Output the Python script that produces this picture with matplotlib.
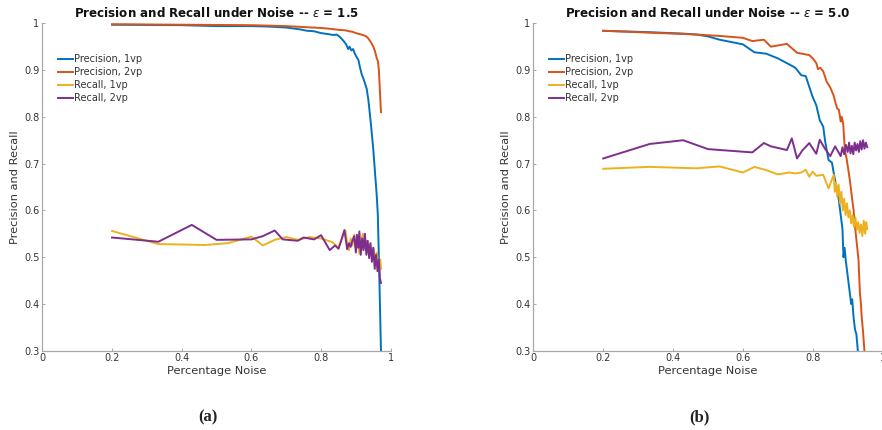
import matplotlib
matplotlib.use("Agg")
import matplotlib.pyplot as plt
from matplotlib.ticker import FuncFormatter

# ---------------- epsilon = 1.5 ----------------
eps_a = "1.5"
a_prec1_x = [0.2, 0.4, 0.5, 0.6, 0.65, 0.7, 0.74, 0.76, 0.78, 0.8, 0.82, 0.835, 0.845,
             0.855, 0.865, 0.872, 0.878, 0.882, 0.887, 0.892, 0.897, 0.902, 0.907, 0.912,
             0.917, 0.921, 0.926, 0.931, 0.936, 0.941, 0.945, 0.95, 0.955, 0.96, 0.963,
             0.966, 0.969, 0.972]
a_prec1_y = [0.997, 0.996, 0.994, 0.994, 0.993, 0.991, 0.987, 0.984, 0.983, 0.979, 0.977,
             0.975, 0.976, 0.970, 0.962, 0.955, 0.945, 0.950, 0.942, 0.945, 0.935, 0.928,
             0.922, 0.905, 0.890, 0.883, 0.872, 0.860, 0.835, 0.800, 0.770, 0.730, 0.680,
             0.630, 0.590, 0.500, 0.400, 0.300]

a_prec2_x = [0.2, 0.4, 0.6, 0.7, 0.75, 0.8, 0.83, 0.85, 0.87, 0.88, 0.89, 0.9, 0.91, 0.92,
             0.93, 0.935, 0.94, 0.945, 0.95, 0.955, 0.96, 0.963, 0.966, 0.968, 0.97, 0.972]
a_prec2_y = [0.998, 0.997, 0.996, 0.994, 0.992, 0.990, 0.988, 0.986, 0.985, 0.983, 0.982,
             0.979, 0.977, 0.975, 0.972, 0.968, 0.963, 0.957, 0.950, 0.940, 0.925, 0.920,
             0.900, 0.870, 0.840, 0.810]

a_rec1_x = [0.2, 0.333, 0.467, 0.533, 0.6, 0.633, 0.667, 0.7, 0.733, 0.767, 0.8, 0.833,
            0.85, 0.857, 0.864, 0.87, 0.875, 0.88, 0.885, 0.89, 0.895, 0.9, 0.905, 0.91,
            0.915, 0.92, 0.925, 0.93, 0.935, 0.94, 0.945, 0.95, 0.955, 0.96, 0.965, 0.97,
            0.972]
a_rec1_y = [0.556, 0.528, 0.526, 0.530, 0.544, 0.525, 0.537, 0.543, 0.537, 0.543, 0.540,
            0.532, 0.520, 0.535, 0.550, 0.557, 0.530, 0.515, 0.540, 0.525, 0.548, 0.520,
            0.543, 0.508, 0.535, 0.550, 0.520, 0.535, 0.510, 0.528, 0.505, 0.520, 0.495,
            0.510, 0.485, 0.495, 0.475]

a_rec2_x = [0.2, 0.333, 0.429, 0.5, 0.6, 0.633, 0.667, 0.69, 0.733, 0.75, 0.78, 0.8,
            0.825, 0.84, 0.85, 0.86, 0.867, 0.875, 0.88, 0.885, 0.89, 0.895, 0.9, 0.903,
            0.907, 0.91, 0.914, 0.918, 0.922, 0.926, 0.93, 0.934, 0.938, 0.942, 0.946,
            0.95, 0.954, 0.958, 0.962, 0.966, 0.969, 0.972]
a_rec2_y = [0.542, 0.533, 0.569, 0.537, 0.538, 0.545, 0.557, 0.538, 0.535, 0.542, 0.538,
            0.547, 0.515, 0.525, 0.518, 0.540, 0.558, 0.517, 0.530, 0.522, 0.535, 0.545,
            0.510, 0.548, 0.520, 0.555, 0.505, 0.540, 0.515, 0.550, 0.505, 0.535, 0.498,
            0.530, 0.490, 0.520, 0.475, 0.505, 0.470, 0.495, 0.455, 0.445]

# ---------------- epsilon = 5.0 ----------------
eps_b = "5.0"
b_prec1_x = [0.2, 0.333, 0.429, 0.467, 0.5, 0.533, 0.6, 0.633, 0.667, 0.7, 0.733, 0.75,
             0.767, 0.78, 0.79, 0.8, 0.81, 0.82, 0.83, 0.835, 0.845, 0.855, 0.86, 0.865,
             0.87, 0.875, 0.88, 0.885, 0.888, 0.891, 0.895, 0.9, 0.905, 0.91, 0.913, 0.917,
             0.921, 0.925, 0.929]
b_prec1_y = [0.984, 0.981, 0.978, 0.976, 0.972, 0.965, 0.955, 0.938, 0.935, 0.925, 0.912,
             0.905, 0.889, 0.887, 0.864, 0.842, 0.825, 0.793, 0.779, 0.750, 0.708, 0.702,
             0.680, 0.660, 0.645, 0.620, 0.590, 0.560, 0.500, 0.520, 0.490, 0.460, 0.430,
             0.400, 0.410, 0.370, 0.345, 0.335, 0.300]

b_prec2_x = [0.2, 0.333, 0.467, 0.533, 0.6, 0.627, 0.66, 0.68, 0.726, 0.755, 0.79, 0.8,
             0.81, 0.815, 0.822, 0.83, 0.84, 0.85, 0.86, 0.865, 0.87, 0.875, 0.88, 0.883,
             0.887, 0.892, 0.897, 0.902, 0.907, 0.912, 0.917, 0.921, 0.926, 0.931, 0.935,
             0.938, 0.94, 0.944, 0.947, 0.948]
b_prec2_y = [0.984, 0.980, 0.976, 0.973, 0.969, 0.962, 0.965, 0.950, 0.956, 0.937, 0.932,
             0.925, 0.915, 0.902, 0.905, 0.897, 0.875, 0.863, 0.845, 0.830, 0.818, 0.815,
             0.790, 0.800, 0.786, 0.729, 0.710, 0.686, 0.660, 0.629, 0.600, 0.565, 0.530,
             0.494, 0.423, 0.400, 0.373, 0.340, 0.309, 0.300]

b_rec1_x = [0.2, 0.333, 0.467, 0.533, 0.6, 0.633, 0.667, 0.7, 0.733, 0.75, 0.767, 0.78,
            0.79, 0.8, 0.81, 0.83, 0.845, 0.86, 0.863, 0.866, 0.87, 0.874, 0.878, 0.882,
            0.886, 0.89, 0.894, 0.898, 0.902, 0.906, 0.91, 0.914, 0.918, 0.922, 0.926,
            0.93, 0.934, 0.938, 0.942, 0.946, 0.95, 0.953, 0.956]
b_rec1_y = [0.689, 0.693, 0.690, 0.694, 0.681, 0.693, 0.686, 0.677, 0.681, 0.679, 0.681,
            0.687, 0.672, 0.683, 0.674, 0.676, 0.647, 0.676, 0.640, 0.660, 0.630, 0.655,
            0.615, 0.640, 0.600, 0.625, 0.590, 0.615, 0.585, 0.600, 0.572, 0.590, 0.565,
            0.585, 0.558, 0.575, 0.552, 0.570, 0.545, 0.578, 0.550, 0.575, 0.560]

b_rec2_x = [0.2, 0.333, 0.429, 0.5, 0.627, 0.66, 0.68, 0.726, 0.74, 0.755, 0.77, 0.79,
            0.81, 0.82, 0.834, 0.85, 0.864, 0.88, 0.885, 0.89, 0.895, 0.9, 0.904, 0.908,
            0.912, 0.916, 0.92, 0.924, 0.928, 0.932, 0.936, 0.94, 0.944, 0.948, 0.952,
            0.956]
b_rec2_y = [0.711, 0.742, 0.750, 0.731, 0.724, 0.744, 0.737, 0.729, 0.754, 0.711, 0.728,
            0.744, 0.721, 0.751, 0.733, 0.716, 0.737, 0.716, 0.735, 0.720, 0.740, 0.725,
            0.745, 0.722, 0.738, 0.720, 0.745, 0.728, 0.742, 0.725, 0.748, 0.730, 0.750,
            0.732, 0.745, 0.735]

series_labels = ["Precision, 1vp", "Precision, 2vp", "Recall, 1vp", "Recall, 2vp"]
colors = ["#0072BD", "#D95319", "#EDB120", "#7E2F8E"]
x_ticks = [0, 0.2, 0.4, 0.6, 0.8, 1]
y_ticks = [0.3, 0.4, 0.5, 0.6, 0.7, 0.8, 0.9, 1]

plt.rcParams["font.family"] = ["DejaVu Sans"]

fig = plt.figure(figsize=(8.82, 4.30), dpi=100)
ax_h = 0.7614
ax_b = 0.1844
axes = [fig.add_axes([0.048, ax_b, 0.395, ax_h]),
        fig.add_axes([0.6047, ax_b, 0.396, ax_h])]

panels = [
    (eps_a, [(a_prec1_x, a_prec1_y), (a_prec2_x, a_prec2_y),
             (a_rec1_x, a_rec1_y), (a_rec2_x, a_rec2_y)]),
    (eps_b, [(b_prec1_x, b_prec1_y), (b_prec2_x, b_prec2_y),
             (b_rec1_x, b_rec1_y), (b_rec2_x, b_rec2_y)]),
]

fmt = FuncFormatter(lambda v, _: "%g" % round(v, 2))
spine_col = "#a8a8a8"
text_col = "#333333"

for ax, (eps, data) in zip(axes, panels):
    for (xs, ys), lab, col in zip(data, series_labels, colors):
        ax.plot(xs, ys, color=col, lw=1.4, label=lab, solid_joinstyle="round")
    ax.set_xlim(0, 1)
    ax.set_ylim(0.3, 1)
    ax.set_xticks(x_ticks)
    ax.set_yticks(y_ticks)
    ax.xaxis.set_major_formatter(fmt)
    ax.yaxis.set_major_formatter(fmt)
    for s in ("top", "right"):
        ax.spines[s].set_visible(False)
    for s in ("left", "bottom"):
        ax.spines[s].set_color(spine_col)
        ax.spines[s].set_linewidth(0.9)
    ax.tick_params(direction="in", length=2.5, width=0.7, color=spine_col,
                   labelsize=7, labelcolor=text_col, pad=2)
    ax.set_xlabel("Percentage Noise", fontsize=8.2, color=text_col, labelpad=2)
    ax.set_ylabel("Precision and Recall", fontsize=8.2, color=text_col, labelpad=3)
    ax.set_title(r"Precision and Recall under Noise -- $\epsilon$ = " + eps,
                 fontsize=8.6, fontweight="bold", color="#111111", pad=4.5)
    ax.legend(loc="upper left", bbox_to_anchor=(0.045, 0.905), frameon=False,
              fontsize=7, handlelength=1.5, handletextpad=0.1, labelspacing=0.3,
              borderpad=0, borderaxespad=0, labelcolor=text_col)

fig.text(208 / 882, 1 - 417 / 430, "(a)", ha="center", va="center",
         fontsize=12, fontweight="bold", family="Liberation Serif", color="#222222")
fig.text(699 / 882, 1 - 417 / 430, "(b)", ha="center", va="center",
         fontsize=12, fontweight="bold", family="Liberation Serif", color="#222222")

fig.savefig("out.png", dpi=100)
